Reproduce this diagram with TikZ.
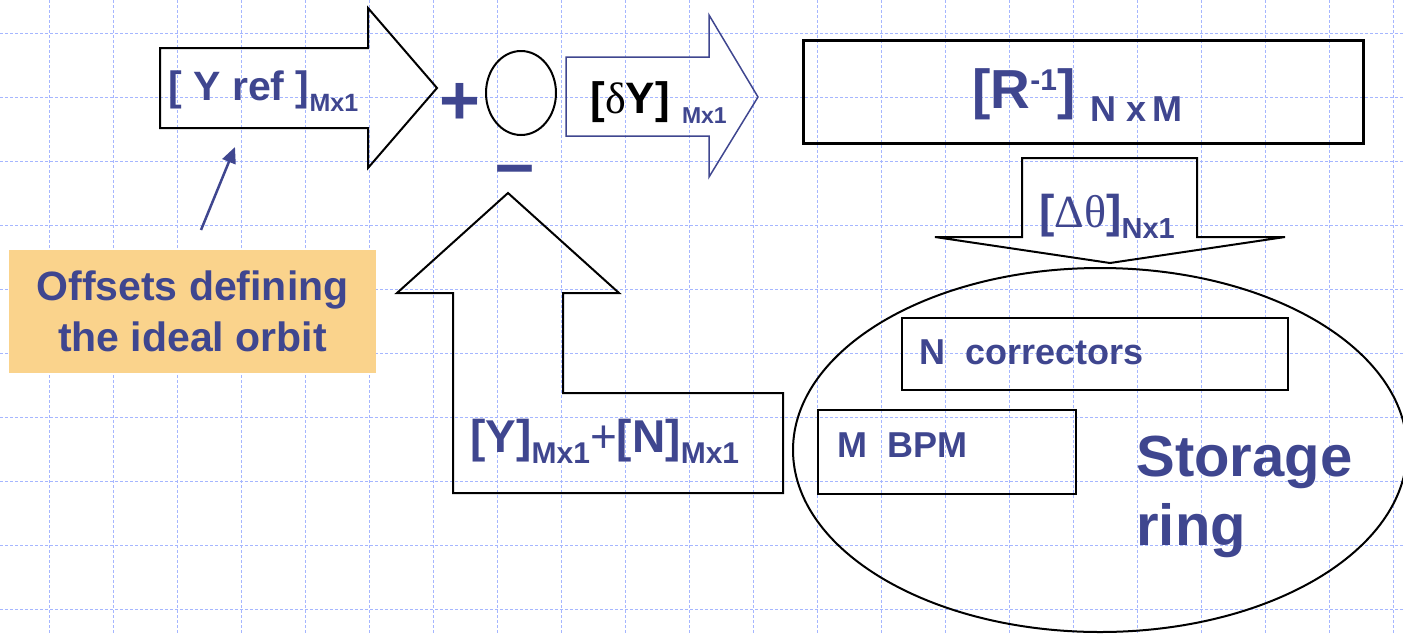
\documentclass[tikz,border=0pt]{standalone}
\usepackage{fontspec}
\setmainfont{Liberation Sans}
\newfontfamily\greekfont{Liberation Serif}
\usetikzlibrary{arrows.meta,shapes.geometric}

\definecolor{ink}{RGB}{63,70,143}
\definecolor{gridblue}{RGB}{165,182,255}
\definecolor{notefill}{RGB}{250,211,140}

% lowered index: drop, size, text
\newcommand{\lowidx}[3]{\raisebox{-#1}{\fontsize{#2}{#2}\selectfont #3}}

\begin{document}
\begin{tikzpicture}[
  x=0.5pt, y=-0.5pt,
  gridline/.style={gridblue, line width=0.45pt, dash pattern=on 1.5pt off 1pt},
  blockarrow/.style={draw, line width=1pt},
  box/.style={draw, rectangle, inner sep=0, line width=1pt},
  lbl/.style={inner sep=0, text=ink, anchor=base west},
  pointer/.style={-{Triangle[length=8pt,width=7pt]}, ink, line width=1.25pt}
]
\clip (0,0) rectangle (1403,633);

% background grid
\foreach \gx in {49,113,...,1393} \draw[gridline] (\gx,0) -- (\gx,633);
\foreach \gy in {33,97,...,609} \draw[gridline] (0,\gy) -- (1403,\gy);

% reference orbit
\draw[blockarrow] (160,48) -- (368,48) -- (368,8) -- (437,88) -- (368,168) -- (368,128) -- (160,128) -- cycle;
\node[lbl, font=\bfseries\fontsize{20.5}{24}\selectfont] (yref) at (168,100) {[ Y ref ]\lowidx{5.5pt}{12.5}{Mx1}};

% summing junction
\node[lbl, font=\bfseries\fontsize{35}{40}\selectfont] (plus) at (439,124) {+};
\node[draw, ellipse, line width=1pt, inner sep=0, minimum width=35pt, minimum height=42pt] (sum) at (521,93) {};
\node[lbl, font=\bfseries\fontsize{35}{40}\selectfont] (minus) at (495,187) {–};

% error signal
\draw[blockarrow, draw=ink, line width=0.75pt] (566,57) -- (709,57) -- (709,15) -- (758,97) -- (709,177) -- (709,136) -- (566,136) -- cycle;
\node[lbl, text=black, font=\bfseries\fontsize{22}{26}\selectfont] (dy) at (590,113) {[{\greekfont\mdseries δ}Y] \textcolor{ink}{\lowidx{5pt}{11.5}{Mx1}}};

% inverse response matrix
\node[box, line width=1.5pt, minimum width=280pt, minimum height=51.5pt] (rinv) at (1083,91.5) {};
\node[lbl, font=\bfseries\fontsize{27.5}{32}\selectfont] (rinvtxt) at (972,108) {[R\raisebox{9pt}{\fontsize{15}{15}\selectfont -1}] \lowidx{6.5pt}{18}{N x\,M}};

% corrector kicks
\draw[blockarrow] (1022,158) -- (1197,158) -- (1197,237) -- (1285,237) -- (1110,263) -- (935,237) -- (1022,237) -- cycle;
\node[lbl, font=\bfseries\fontsize{23}{27}\selectfont] (dtheta) at (1039,227) {[{\greekfont\mdseries Δθ}]\lowidx{5.5pt}{14.5}{Nx1}};

% storage ring
\node[draw, ellipse, line width=1pt, inner sep=0, minimum width=307pt, minimum height=182pt] (ring) at (1100,450) {};
\node[box, minimum width=193pt, minimum height=36pt] (ncorr) at (1095,354) {};
\node[lbl, font=\bfseries\fontsize{18}{22}\selectfont] (ncorrtxt) at (919,364) {N~~correctors};
\node[box, minimum width=129pt, minimum height=42pt] (mbpm) at (947,452) {};
\node[lbl, font=\bfseries\fontsize{18}{22}\selectfont] (mbpmtxt) at (837,457) {M~~BPM};
\node[lbl, anchor=north west, align=left, font=\bfseries\fontsize{29}{34.5}\selectfont] (ringtxt) at (1136,436) {Storage\\ring};

% measured orbit fed back
\draw[blockarrow] (508,193) -- (619,293) -- (563,293) -- (563,393) -- (783,393) -- (783,493) -- (453,493) -- (453,293) -- (397,293) -- cycle;
\node[lbl, font=\bfseries\fontsize{23}{27}\selectfont] (meas) at (470,452) {[Y]\lowidx{5.5pt}{15}{Mx1}{\mdseries+}[N]\lowidx{5.5pt}{15}{Mx1}};

% offsets note
\node[fill=notefill, inner sep=0, minimum width=183.5pt, minimum height=61.5pt, align=center, text=ink, font=\bfseries\fontsize{20.5}{25.5}\selectfont] (offsets) at (192.5,311.5) {Offsets defining\\the ideal orbit};
\coordinate (otail) at (201,230);
\coordinate (ohead) at (235,147);
\draw[pointer] (otail) -- (ohead);
\end{tikzpicture}
\end{document}
